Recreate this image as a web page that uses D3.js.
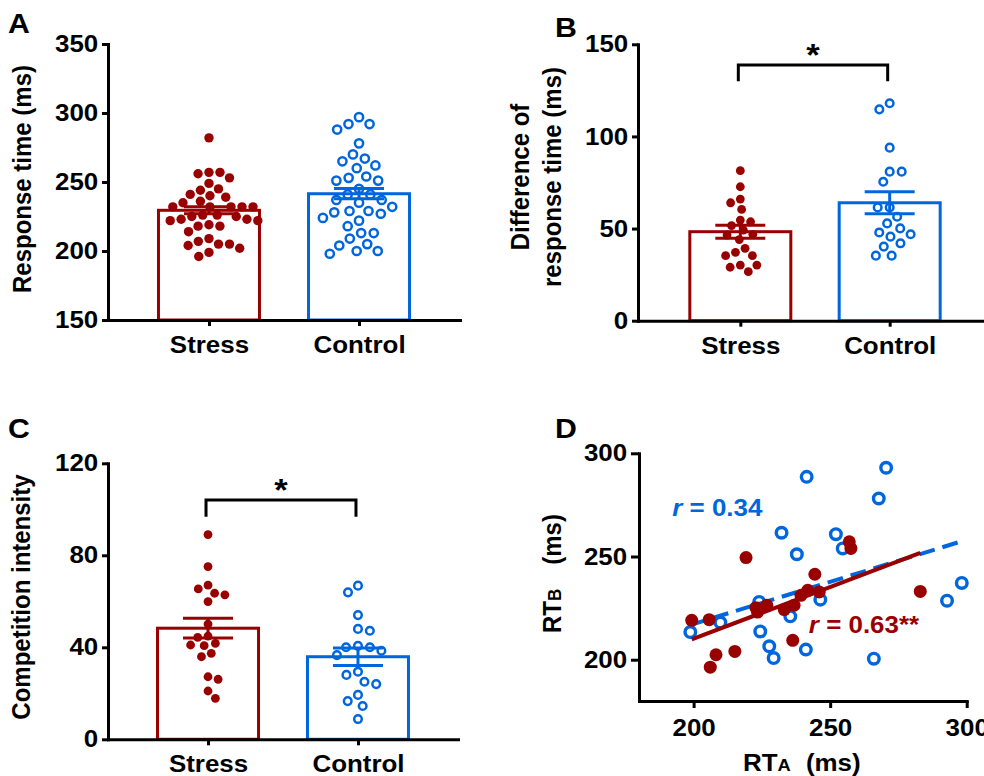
<!DOCTYPE html>
<html lang="en">
<head>
<meta charset="UTF-8">
<title>Stress vs Control response time</title>
<script src="https://d3js.org/d3.v7.min.js"></script>
<style>
  body { margin: 0; padding: 0; background: #fff; }
  svg { display: block; }
  text { font-family: Arial, "Liberation Sans", sans-serif; font-weight: bold; }
</style>
</head>
<body>
<script>
// ---- data ----
const groups = ["Stress", "Control"];
const red = "#990000";
const blue = "#0066dd";

// A: response time (ms)
const stressA = [282, 257, 256, 257, 253, 249, 245, 244, 241, 240, 239, 236, 235,
  232, 232, 232, 232, 232, 226, 226, 223, 223, 225, 225, 222, 222, 218, 218, 219,
  214, 209, 207, 205, 202, 204, 205, 199, 196];
const controlA = [297, 292, 288, 292, 278, 267, 270, 262, 265, 260, 254, 251, 251,
  253, 245, 241, 241, 237, 235, 237, 229, 227, 232, 228, 229, 222, 218, 224, 213,
  213, 205, 209, 204, 200, 198, 200];
const meanA = [229.5, 241.5];
const semA = [2.5, 3.7];

// B: difference of response time (ms)
const stressB = [81.4, 72.7, 64, 66, 60.4, 54.6, 53.7, 51.6, 49.2, 46.9, 46.5, 44,
  39.3, 37.1, 35.3, 35.3, 30.2, 29, 30.2, 26.6];
const controlB = [118, 114.7, 93.9, 80.9, 80.9, 75.4, 61.5, 61.5, 56.4, 52.8, 50.1,
  46.9, 45.6, 47.9, 42, 40.2, 35.3, 35.3];
const meanB = [48.3, 64];
const semB = [3.5, 6];
const sigB = [138.8, 130];   // bracket level, bracket foot

// C: competition intensity
const stressC = [89, 75.1, 67, 65.4, 63.5, 62.8, 59.9, 50.1, 44.9, 44.3, 41.7, 40.7,
  41, 37.4, 35.9, 27.2, 26.1, 21, 17.8];
const controlC = [66.8, 63.9, 54, 47.2, 48, 40, 38.5, 36.6, 40, 40.6, 28, 29.4, 24,
  25, 19.3, 16.6, 14.5, 8.8];
const meanC = [48.3, 35.9];
const semC = [4.3, 3.8];
const sigC = [104, 96.8];

// D: RT A vs RT B
const stressRtA = [199.3, 205.7, 222.8, 226.8, 223.4, 233.2, 236.8, 239.3, 241.8, 246,
  244.4, 257, 257.6, 236.3, 215.1, 208.2, 206.1, 219.2, 283];
const stressRtB = [219.1, 219.4, 225.2, 226.4, 223.1, 224.3, 226.4, 231.2, 233.6, 232.8,
  241.4, 257.1, 253.9, 209.4, 204, 202.4, 196.4, 249.5, 233.1];
const controlRtA = [232.2, 252.1, 254.6, 237.8, 246.4, 235.4, 209.8, 198.8, 224.4, 227.7,
  229.3, 241.1, 241.4, 270.5, 267.8, 298.2, 292.8, 266, 224];
const controlRtB = [261.5, 260.8, 253.9, 251.1, 229.1, 221, 218, 213.4, 213.7, 206.5,
  200.8, 204.9, 288.6, 293, 278.1, 237.2, 228.6, 200.5, 228];
// fitted lines: [x0, x1, intercept at x0, slope]
const fitStress = [199.3, 283, 209.85, 0.501];
const fitControl = [198.7, 298.2, 216.8, 0.408];

// ---- drawing ----
const W = 984, H = 776;
const SX = 1.08;   // the figure's lettering is a little wide
const svg = d3.select("body").append("svg").attr("width", W).attr("height", H);

function styleAxis(g) {
  g.attr("font-size", 24).attr("font-family", null);
  g.select(".domain").attr("stroke-width", 3).attr("stroke-linecap", "square");
  g.selectAll(".tick line").attr("stroke-width", 3);
  g.selectAll(".tick text").attr("fill", "#000").attr("transform", `scale(${SX},1)`);
}

function label(x, y, size, txt) {
  return svg.append("text").attr("transform", `translate(${x},${y}) scale(${SX},1)`)
    .attr("font-size", size).text(txt);
}

// simple beeswarm: each point goes as close to the centre as it can
function swarm(values, y, cx, r) {
  const d = 2 * r + 1.2;
  const pts = values.map(v => ({ v, y: y(v) })).sort((a, b) => a.y - b.y);
  const placed = [];
  pts.forEach((p, i) => {
    const cands = [0];
    placed.forEach(q => {
      const dy = Math.abs(q.y - p.y);
      if (dy < d) {
        const dx = Math.sqrt(d * d - dy * dy);
        cands.push(q.x + dx, q.x - dx);
      }
    });
    cands.sort((a, b) => Math.abs(a) - Math.abs(b) || (i % 2 ? a - b : b - a));
    for (const x of cands) {
      if (placed.every(q => (q.x - x) ** 2 + (q.y - p.y) ** 2 >= d * d - 0.01)) { p.x = x; break; }
    }
    placed.push(p);
  });
  return placed.map(p => ({ x: cx + p.x, y: p.y }));
}

function barPanel(opt) {
  const g = svg.append("g");
  const x = d3.scalePoint().domain(groups).range(opt.xr).padding(opt.pad);
  const y = d3.scaleLinear().domain(opt.yd).range(opt.yr);
  const bw = 101, cap = 25;
  const base = opt.yd[0];
  const cols = [red, blue];

  g.selectAll("rect").data(groups).join("rect")
    .attr("x", d => x(d) - bw / 2)
    .attr("y", (d, i) => y(opt.mean[i]))
    .attr("width", bw)
    .attr("height", (d, i) => y(base) - y(opt.mean[i]))
    .attr("fill", "none")
    .attr("stroke", (d, i) => cols[i])
    .attr("stroke-width", 3);

  // points
  g.selectAll("circle.s").data(swarm(opt.stress, y, x("Stress"), opt.r + 0.2)).join("circle")
    .attr("class", "s").attr("cx", d => d.x).attr("cy", d => d.y)
    .attr("r", opt.r).attr("fill", red);
  g.selectAll("circle.c").data(swarm(opt.control, y, x("Control"), opt.r + 1)).join("circle")
    .attr("class", "c").attr("cx", d => d.x).attr("cy", d => d.y)
    .attr("r", opt.r - 0.6).attr("fill", "none").attr("stroke", blue).attr("stroke-width", 2.5);

  // error bars
  groups.forEach((grp, i) => {
    const cx = x(grp), m = opt.mean[i], s = opt.sem[i];
    const eb = g.append("g").attr("stroke", cols[i]).attr("stroke-width", 3);
    eb.append("line").attr("x1", cx).attr("x2", cx).attr("y1", y(m - s)).attr("y2", y(m + s));
    [m - s, m + s].forEach(v => eb.append("line")
      .attr("x1", cx - cap).attr("x2", cx + cap).attr("y1", y(v)).attr("y2", y(v)));
  });

  // significance bracket
  if (opt.sig) {
    const x0 = x("Stress") - 2, x1 = x("Control") - 2;
    g.append("path")
      .attr("d", `M${x0},${y(opt.sig[1])}V${y(opt.sig[0])}H${x1}V${y(opt.sig[1])}`)
      .attr("fill", "none").attr("stroke", "#000").attr("stroke-width", 3);
    label((x0 + x1) / 2, y(opt.sig[0]) + 1, 32, "*").attr("text-anchor", "middle");
  }

  g.append("g").attr("transform", `translate(${opt.xr[0]},0)`)
    .call(d3.axisLeft(y).tickValues(opt.ticks).tickSize(6).tickPadding(3).tickSizeOuter(0))
    .call(styleAxis);
  g.append("g").attr("transform", `translate(0,${opt.yr[0]})`)
    .call(d3.axisBottom(x).tickSize(6).tickPadding(10).tickSizeOuter(0))
    .call(styleAxis);
  return g;
}

// A
barPanel({ xr: [108, 460], pad: 0.673, yd: [150, 350], yr: [320, 44],
  ticks: [150, 200, 250, 300, 350], stress: stressA, control: controlA,
  mean: meanA, sem: semA, r: 4.7 });
// B
barPanel({ xr: [638, 992], pad: 0.685, yd: [0, 150], yr: [320.7, 44.3],
  ticks: [0, 50, 100, 150], stress: stressB, control: controlB,
  mean: meanB, sem: semB, r: 4.4, sig: sigB });
// C
barPanel({ xr: [108, 458], pad: 0.667, yd: [0, 120], yr: [739.3, 463.3],
  ticks: [0, 40, 80, 120], stress: stressC, control: controlC,
  mean: meanC, sem: semC, r: 4.4, sig: sigC });

// D scatter
const gD = svg.append("g");
const xD = d3.scaleLinear().domain([180, 300]).range([639, 966.7]);
const yD = d3.scaleLinear().domain([180, 300]).range([701, 453.3]);

gD.selectAll("circle.c").data(controlRtA).join("circle").attr("class", "c")
  .attr("cx", d => xD(d)).attr("cy", (d, i) => yD(controlRtB[i]))
  .attr("r", 5.3).attr("fill", "none").attr("stroke", blue).attr("stroke-width", 3.4);

function fitLine(f) {
  return [[f[0], f[2]], [f[1], f[2] + f[3] * (f[1] - f[0])]];
}
const line = d3.line().x(d => xD(d[0])).y(d => yD(d[1]));
gD.append("path").attr("d", line(fitLine(fitControl)))
  .attr("stroke", blue).attr("stroke-width", 4).attr("stroke-dasharray", "16 8").attr("fill", "none");
gD.append("path").attr("d", line(fitLine(fitStress)))
  .attr("stroke", red).attr("stroke-width", 4).attr("fill", "none");

gD.selectAll("circle.s").data(stressRtA).join("circle").attr("class", "s")
  .attr("cx", d => xD(d)).attr("cy", (d, i) => yD(stressRtB[i]))
  .attr("r", 6.5).attr("fill", red);

const rc = label(xD(192.2), yD(269.6), 24, null).attr("fill", blue);
rc.append("tspan").attr("font-style", "italic").text("r");
rc.append("tspan").text(" = 0.34");
const rs = label(xD(242.2), yD(213), 24, null).attr("fill", red);
rs.append("tspan").attr("font-style", "italic").text("r");
rs.append("tspan").text(" = 0.63**");

gD.append("g").attr("transform", `translate(${xD.range()[0]},0)`)
  .call(d3.axisLeft(yD).tickValues([200, 250, 300]).tickSize(8).tickPadding(3).tickSizeOuter(0))
  .call(styleAxis);
gD.append("g").attr("transform", `translate(0,${yD.range()[0]})`)
  .call(d3.axisBottom(xD).tickValues([200, 250, 300]).tickSize(7).tickPadding(11).tickSizeOuter(0))
  .call(styleAxis);

// axis titles (rotated; the wide lettering becomes tall glyphs)
function vTitle(x, y, txt) {
  return svg.append("text").attr("transform", `translate(${x},${y}) scale(${SX},1) rotate(-90)`)
    .attr("text-anchor", "middle").attr("font-size", 24).text(txt);
}
vTitle(31, 179, "Response time (ms)");
vTitle(529, 177, "Difference of");
vTitle(561, 177, "response time (ms)");
vTitle(30, 597, "Competition intensity");

const ty = svg.append("text").attr("transform", `translate(561,633) scale(${SX},1) rotate(-90)`)
  .attr("font-size", 24);
ty.append("tspan").text("RT");
ty.append("tspan").attr("font-size", 17).text("B");
ty.append("tspan").attr("dx", 24).text("(ms)");
const tx = label(743, 771, 24, null);
tx.append("tspan").text("RT");
tx.append("tspan").attr("font-size", 17).text("A");
tx.append("tspan").attr("dx", 14).text("(ms)");

// panel letters
[["A", 8, 33], ["B", 555, 37], ["C", 8, 438], ["D", 555, 438]].forEach(([t, x, y]) =>
  label(x, y, 28, t));
</script>
</body>
</html>
